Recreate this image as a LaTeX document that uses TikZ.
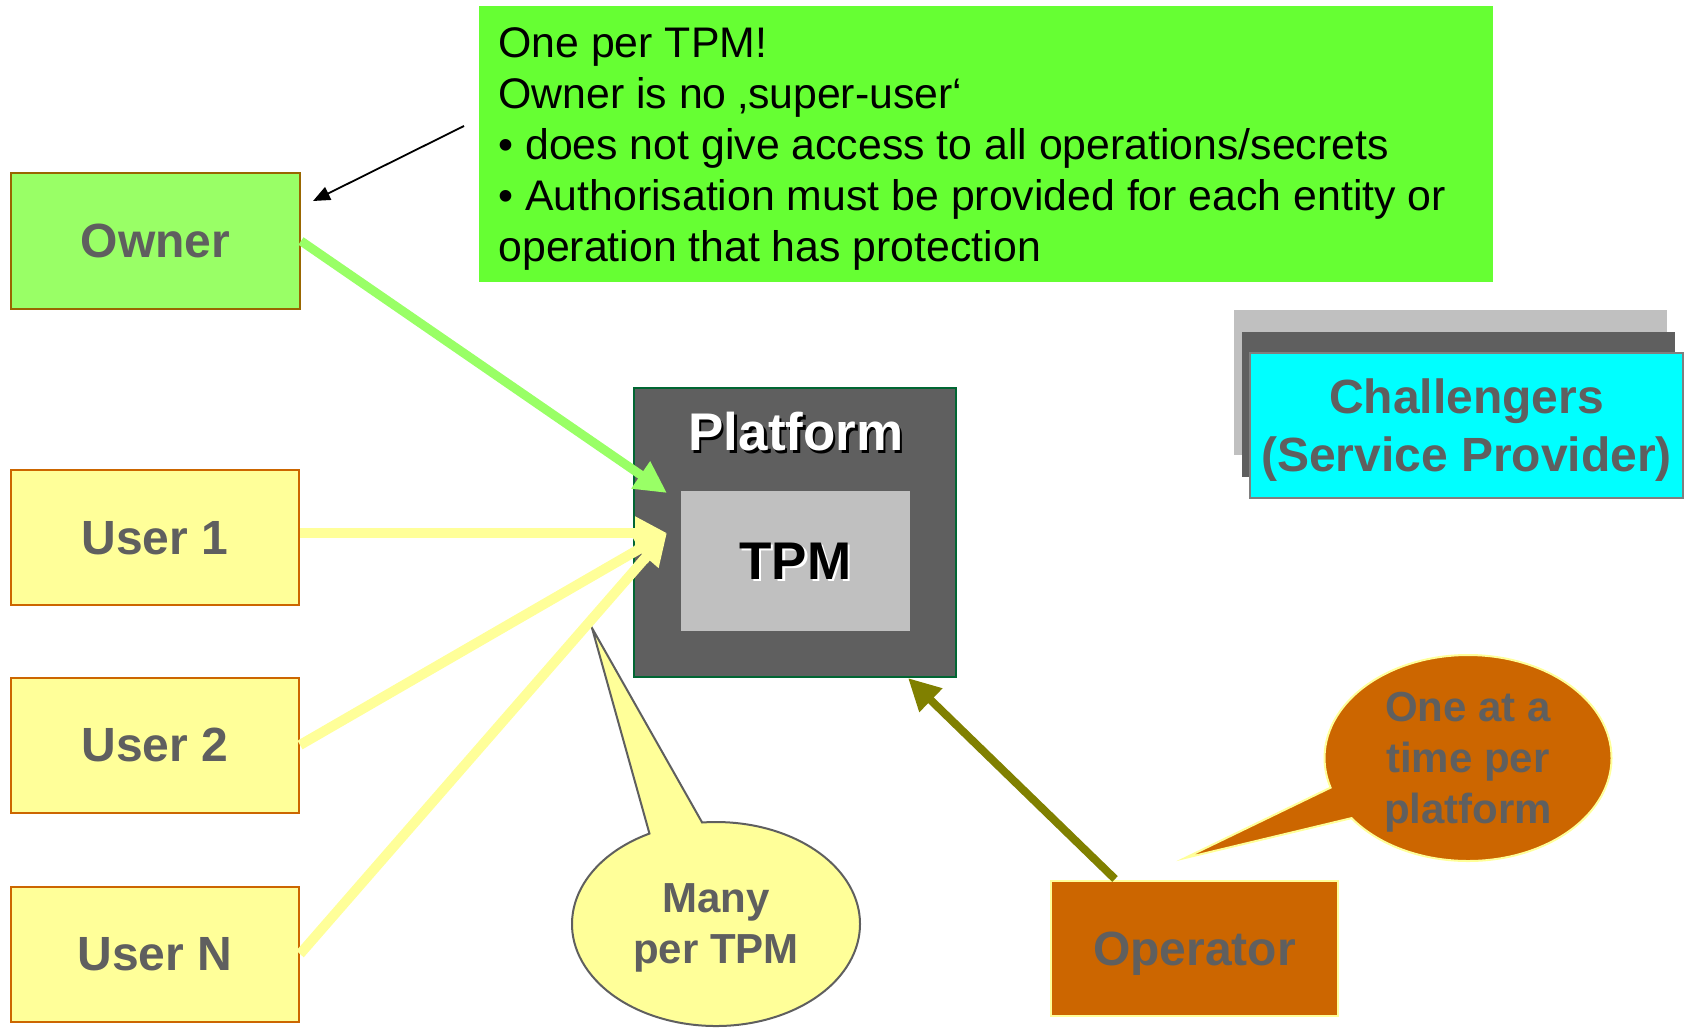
\documentclass[tikz,border=0pt]{standalone}
\usepackage{fontspec}
\setmainfont{Liberation Sans}
\usetikzlibrary{arrows.meta,shapes.callouts,calc}

\definecolor{labelgray}{HTML}{5F5F5F}
\definecolor{ownerfill}{HTML}{99FF66}
\definecolor{ownerline}{HTML}{996600}
\definecolor{userfill}{HTML}{FFFF99}
\definecolor{userline}{HTML}{CC6600}
\definecolor{notefill}{HTML}{66FF33}
\definecolor{platfill}{HTML}{5F5F5F}
\definecolor{platline}{HTML}{006633}
\definecolor{tpmfill}{HTML}{C0C0C0}
\definecolor{chback}{HTML}{C0C0C0}
\definecolor{chmid}{HTML}{5F5F5F}
\definecolor{chfront}{HTML}{00FFFF}
\definecolor{chline}{HTML}{7F7F7F}
\definecolor{opfill}{HTML}{CC6600}
\definecolor{opline}{HTML}{FFFF99}
\definecolor{ownerarrow}{HTML}{99FF66}
\definecolor{userarrow}{HTML}{FFFF99}
\definecolor{oparrow}{HTML}{808000}

% text with an offset copy underneath it
\newcommand\castshadow[3]{\makebox[0pt][l]{\hspace{#3}\raisebox{-#3}{\color{#2}#1}}#1}

\begin{document}
\begin{tikzpicture}[x=0.5pt,y=0.5pt,
  labelfont/.style={font=\bfseries\fontsize{24}{29}\selectfont},
  rolebox/.style={rectangle, draw, line width=1pt, inner sep=0pt, text=labelgray,
    labelfont, minimum width=144pt, minimum height=67.5pt, text depth=-3.5pt},
  userbox/.style={rolebox, fill=userfill, draw=userline},
  plainbox/.style={rectangle, inner sep=0pt, minimum width=216.5pt, minimum height=72.5pt},
  bubble/.style={ellipse callout, line width=1pt, inner sep=0pt, align=center,
    text=labelgray, font=\bfseries\fontsize{21}{25.5}\selectfont, text depth=-6.5pt},
  bigarrow/.style={line width=#1, -{Triangle[length=16pt,width=15.5pt]}},
]
\useasboundingbox (0,0) rectangle (1685,-1028);

% actors on the left
\node[rolebox, fill=ownerfill, draw=ownerline, minimum width=144.5pt, minimum height=68pt]
  (owner) at (155.5,-241) {Owner};
\node[userbox] (user1) at (155,-537.5) {User 1};
\node[userbox] (user2) at (155,-745) {User 2};
\node[userbox] (usern) at (155,-954) {User N};

% note about the owner
\node[rectangle, fill=notefill, inner sep=0pt, minimum width=507pt, minimum height=138pt]
  (note) at (986,-144) {};
\node[anchor=north west, inner sep=0pt, align=left,
  font=\fontsize{21.4}{25.5}\selectfont] (notetext) at (498,-27)
  {One per TPM!\\
   Owner is no ‚super-user‘\\
   • does not give access to all operations/secrets\\
   • Authorisation must be provided for each entity or\\
   operation that has protection};

% platform with its TPM
\node[rectangle, fill=platfill, draw=platline, line width=1pt, inner sep=0pt,
  minimum width=161pt, minimum height=144.5pt] (platform) at (795,-532.5) {};
\node[font=\bfseries\fontsize{26.5}{30}\selectfont, text=white, inner sep=0pt]
  (platformlabel) at (796,-433) {\castshadow{Platform}{black}{1.2pt}};
\node[rectangle, fill=tpmfill, inner sep=0pt, minimum width=114.5pt, minimum height=70pt,
  font=\bfseries\fontsize{26.5}{30}\selectfont, text=black, text depth=0pt]
  (tpm) at (795.5,-561) {\castshadow{TPM}{white}{1.2pt}};

% stacked challengers
\node[plainbox, fill=chback] (chlast) at (1450.5,-382.5) {};
\node[plainbox, fill=chmid] (chnext) at (1458.5,-404) {};
\node[plainbox, fill=chfront, draw=chline, line width=0.8pt, text=labelgray,
  labelfont, align=center, text depth=-0.5pt] (challengers) at (1466.5,-425.5)
  {Challengers\\(Service Provider)};

% operator
\node[rolebox, fill=opfill, draw=opline, minimum width=143.5pt]
  (operator) at (1194.5,-948.5) {Operator};

% speech bubbles
\node[bubble, fill=userfill, draw=labelgray, minimum width=144pt, minimum height=102pt,
  callout absolute pointer={(592,-628)}, callout pointer arc=22]
  (many) at (716,-924) {Many\\per TPM};
\node[bubble, fill=opfill, draw=opline, minimum width=143.5pt, minimum height=103pt,
  callout absolute pointer={(1185,-858)}, callout pointer arc=19]
  (onetime) at (1468,-758) {One at a\\time per\\platform};

% connector end points
\coordinate (ownertip) at (667,-493);
\coordinate (usertip) at (667,-533);
\coordinate (opstart) at (1115,-879);
\coordinate (optip) at (908,-678);
\coordinate (notefrom) at (464,-126);
\coordinate (noteto) at (313,-201);

% connectors
\draw[bigarrow=4.5pt, draw=ownerarrow, fill=ownerarrow] (owner.east) -- (ownertip);
\draw[bigarrow=5pt, draw=userarrow, fill=userarrow] (user1.east |- usertip) -- (usertip);
\draw[bigarrow=5pt, draw=userarrow, fill=userarrow] (user2.east) -- (usertip);
\draw[bigarrow=5pt, draw=userarrow, fill=userarrow] (usern.east) -- (usertip);
\draw[bigarrow=4pt, draw=oparrow, fill=oparrow] (opstart) -- (optip);
\draw[line width=0.9pt, -{Triangle[length=8.5pt,width=7pt]}] (notefrom) -- (noteto);
\end{tikzpicture}
\end{document}
